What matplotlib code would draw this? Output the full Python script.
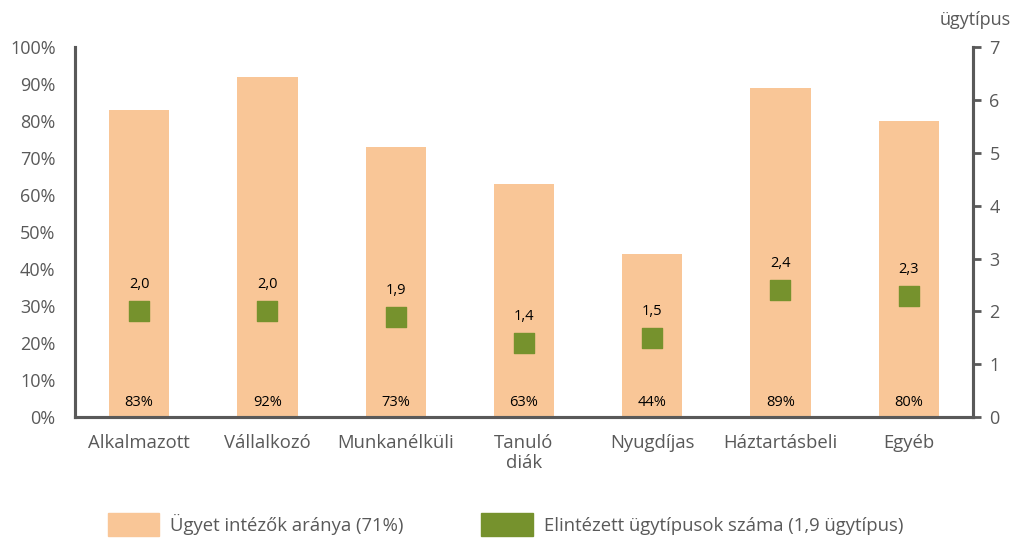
import matplotlib
matplotlib.use("Agg")
import matplotlib.pyplot as plt
from matplotlib.patches import Patch

categories = ["Alkalmazott", "Vállalkozó", "Munkanélküli", "Tanuló\ndiák",
              "Nyugdíjas", "Háztartásbeli", "Egyéb"]
share = [83, 92, 73, 63, 44, 89, 80]
types = [2.0, 2.0, 1.9, 1.4, 1.5, 2.4, 2.3]

bar_color = "#F9C697"
sq_color = "#76922D"
txt = "#595959"

plt.rcParams["font.family"] = ["Open Sans", "DejaVu Sans"]

fig = plt.figure(figsize=(10.11, 5.39), dpi=100)
ax = fig.add_axes([0.0742, 0.2263, 0.888, 0.686])
ax2 = ax.twinx()

x = list(range(len(categories)))
ax.bar(x, share, width=0.47, color=bar_color, zorder=1)
ax.set_ylim(0, 100)
ax.set_xlim(-0.5, 6.5)
ax.set_yticks(range(0, 101, 10))
ax.set_yticklabels([f"{v}%" for v in range(0, 101, 10)])
ax.set_xticks(x)
ax.set_xticklabels(categories, linespacing=1.15)
ax.tick_params(axis="y", length=0, labelsize=13, labelcolor=txt, pad=14)
ax.tick_params(axis="x", length=0, labelsize=13.3, labelcolor=txt, pad=12)

for xi, v in zip(x, share):
    ax.text(xi, 3.8, f"{v}%", ha="center", va="center", fontsize=10.5, color="black")

ax2.scatter(x, types, marker="s", s=210, color=sq_color, zorder=3)
ax2.set_ylim(0, 7)
ax2.set_yticks(range(0, 8))
ax2.tick_params(axis="y", length=6, width=2, color="#595959", labelsize=13,
                labelcolor=txt, pad=6)
for xi, v in zip(x, types):
    ax2.text(xi, v + 0.5, f"{v:.1f}".replace(".", ","), ha="center",
             va="center", fontsize=10.5, color="black")

for a in (ax, ax2):
    a.spines["top"].set_visible(False)
    for s in ("left", "right", "bottom"):
        a.spines[s].set_color("#595959")
        a.spines[s].set_linewidth(2.2)

fig.text(0.965, 0.962, "ügytípus", ha="center", va="center", fontsize=13, color=txt)

handles = [Patch(color=bar_color, label="Ügyet intézők aránya (71%)"),
           Patch(color=sq_color, label="Elintézett ügytípusok száma (1,9 ügytípus)")]
leg = fig.legend(handles=handles, loc="center left", bbox_to_anchor=(0.090, 0.027),
                 ncol=2, frameon=False, fontsize=13.3, handlelength=2.8,
                 handleheight=1.5, columnspacing=4.2, handletextpad=0.6)
for t in leg.get_texts():
    t.set_color(txt)

fig.savefig("out.png", dpi=100)
